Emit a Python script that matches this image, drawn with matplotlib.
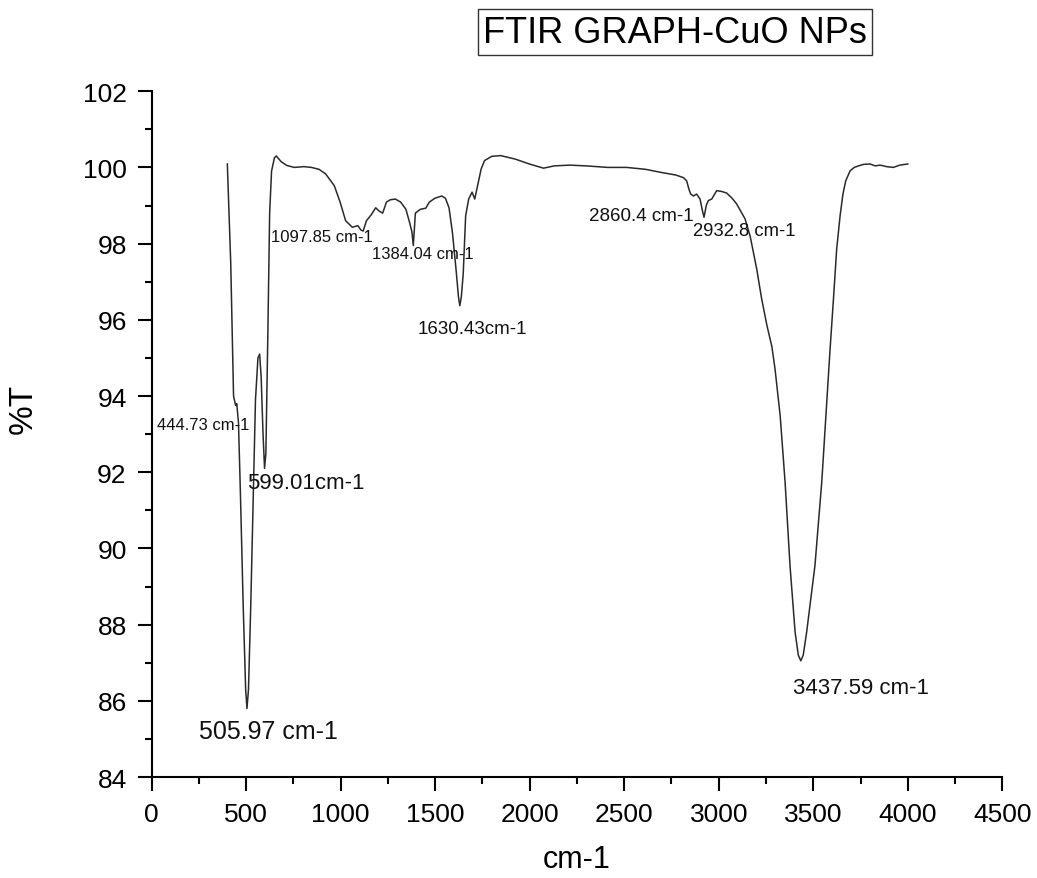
import matplotlib
matplotlib.use("Agg")
import matplotlib.pyplot as plt
from matplotlib.ticker import MultipleLocator

plt.rcParams['font.family'] = ['Liberation Sans', 'DejaVu Sans']

wavenumber = [400, 418, 433, 444, 450, 459, 469, 484, 497, 504, 512, 524, 539, 549,
              562, 571, 579, 589, 597, 604, 614, 624, 634, 649, 659, 685, 715, 755,
              805, 845, 885, 920, 966, 996, 1026, 1061, 1091, 1106, 1119, 1136, 1162,
              1185, 1204, 1222, 1242, 1262, 1289, 1317, 1345, 1364, 1377, 1384, 1395,
              1421, 1450, 1469, 1498, 1535, 1554, 1573, 1591, 1610, 1623, 1630, 1638,
              1648, 1661, 1677, 1695, 1709, 1724, 1743, 1761, 1799, 1846, 1922, 1998,
              2073, 2130, 2211, 2299, 2412, 2512, 2613, 2693, 2773, 2814, 2830, 2844,
              2852, 2866, 2883, 2901, 2912, 2922, 2934, 2945, 2963, 2989, 3014, 3041,
              3069, 3095, 3139, 3166, 3201, 3227, 3255, 3281, 3298, 3325, 3351, 3377,
              3404, 3421, 3434, 3447, 3465, 3509, 3545, 3572, 3589, 3607, 3624, 3642,
              3657, 3672, 3695, 3717, 3739, 3767, 3800, 3828, 3854, 3888, 3924, 3958,
              4000]
transmittance = [100.09, 97.5, 94.0, 93.75, 93.8, 93.3, 91.5, 88.5, 86.3, 85.8, 86.3,
                 88.5, 91.8, 93.9, 95.0, 95.1, 94.5, 93.0, 92.1, 92.5, 95.5, 98.8,
                 99.9, 100.25, 100.3, 100.15, 100.05, 100.0, 100.02, 100.0, 99.95,
                 99.83, 99.52, 99.1, 98.6, 98.43, 98.47, 98.36, 98.33, 98.6, 98.76,
                 98.94, 98.85, 98.8, 99.09, 99.15, 99.17, 99.09, 98.9, 98.56, 98.3,
                 97.95, 98.8, 98.9, 98.93, 99.09, 99.19, 99.25, 99.19, 98.94, 98.29,
                 97.33, 96.6, 96.37, 96.6, 97.2, 98.73, 99.17, 99.35, 99.17, 99.52,
                 99.96, 100.18, 100.29, 100.31, 100.22, 100.09, 99.98, 100.04, 100.06,
                 100.04, 100.0, 100.0, 99.95, 99.87, 99.8, 99.73, 99.65, 99.4, 99.3,
                 99.25, 99.3, 99.17, 98.9, 98.69, 99.0, 99.13, 99.17, 99.39, 99.37,
                 99.33, 99.2, 99.04, 98.65, 98.2, 97.33, 96.55, 95.85, 95.3, 94.7,
                 93.48, 91.74, 89.55, 87.8, 87.2, 87.05, 87.2, 87.8, 89.55, 91.74,
                 93.9, 95.23, 96.55, 97.86, 98.73, 99.3, 99.65, 99.91, 100.0, 100.04,
                 100.08, 100.09, 100.04, 100.06, 100.02, 100.0, 100.06, 100.09]

peak_labels = ["444.73 cm-1", "505.97 cm-1", "599.01cm-1", "1097.85 cm-1",
               "1384.04 cm-1", "1630.43cm-1", "2860.4 cm-1", "2932.8 cm-1",
               "3437.59 cm-1"]
peak_label_x = [28, 252, 504, 633, 1166, 1408, 2315, 2862, 3395]
peak_label_y = [93.24, 85.22, 91.73, 98.19, 97.74, 95.76, 98.75, 98.34, 86.35]
peak_label_size = [12, 18, 16, 12, 12, 13.5, 13.5, 13.3, 16]

title = "FTIR GRAPH-CuO NPs"
x_label = "cm-1"
y_label = "%T"

fig = plt.figure(figsize=(10.37, 8.79), dpi=100)
ax = fig.add_axes([0.1463, 0.1149, 0.8202, 0.7802])

ax.plot(wavenumber, transmittance, color='#2a2a2a', linewidth=1.1)

for txt, lx, ly, fs in zip(peak_labels, peak_label_x, peak_label_y, peak_label_size):
    ax.text(lx, ly, txt, ha='left', va='center', fontsize=fs, color='#111111')

ax.set_xlim(0, 4500)
ax.set_ylim(84, 102)
ax.xaxis.set_major_locator(MultipleLocator(500))
ax.xaxis.set_minor_locator(MultipleLocator(250))
ax.yaxis.set_major_locator(MultipleLocator(2))
ax.yaxis.set_minor_locator(MultipleLocator(1))

for s in ['top', 'right']:
    ax.spines[s].set_visible(False)
for s in ['left', 'bottom']:
    ax.spines[s].set_linewidth(1.5)

ax.tick_params(which='major', direction='out', length=10, width=1.5,
               labelsize=19, pad=8)
ax.tick_params(which='minor', direction='out', length=5, width=1.5)

ax.set_xlabel(x_label, fontsize=22, va='center')
ax.xaxis.set_label_coords(0.5, -0.12)
ax.set_ylabel(y_label, fontsize=24, va='center')
ax.yaxis.set_label_coords(-0.151, 0.538)

fig.text(0.651, 0.962, title, ha='center', va='center', fontsize=26,
         bbox=dict(boxstyle='square,pad=0.15', facecolor='white',
                   edgecolor='#333333', linewidth=1.0))

fig.savefig('out.png', dpi=100, facecolor='white')
